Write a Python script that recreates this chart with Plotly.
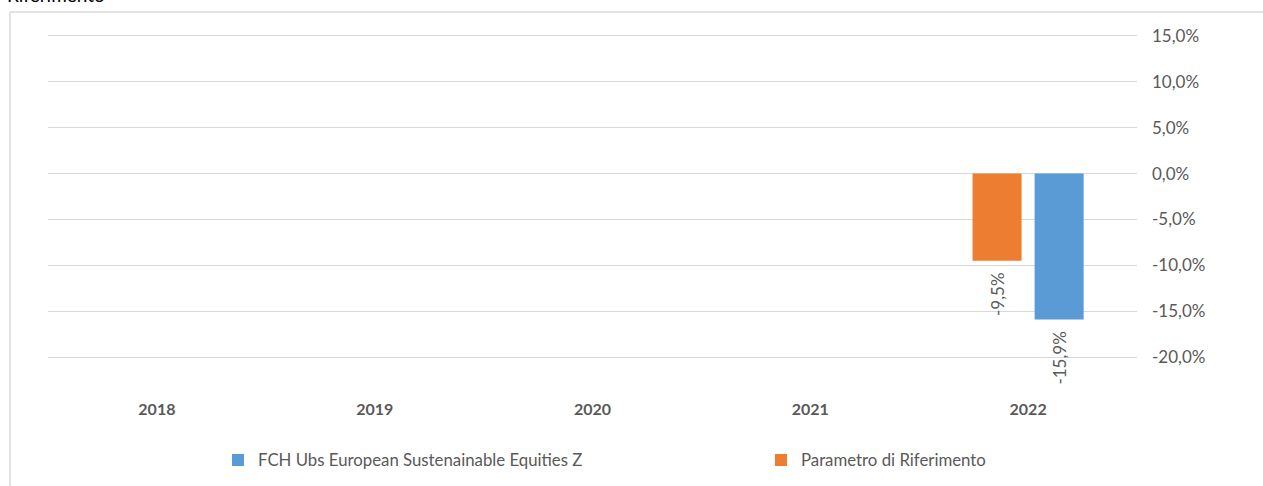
import plotly.graph_objects as go

# Annual returns (%) by year
years = ["2018", "2019", "2020", "2021", "2022"]
benchmark_name = "Parametro di Riferimento"
benchmark = [None, None, None, None, -9.5]
fund_name = "FCH Ubs European Sustenainable Equities Z"
fund = [None, None, None, None, -15.9]

y_ticks = [-20, -15, -10, -5, 0, 5, 10, 15]
y_tick_labels = [f"{v:.1f}%".replace(".", ",") for v in y_ticks]

ORANGE = "#ED7D31"
BLUE = "#5B9BD5"
GRID = "#D9D9D9"
TEXT = "#595959"
FONT = "Lato"

W, H = 1263, 486
L, R, T, B = 48, 126, 34, 127
pw, ph = W - L - R, H - T - B


def px_x(p):
    return (p - L) / pw


def px_y(p):
    return (H - B - p) / ph


def fmt(v):
    return "" if v is None else f"{v:.1f}%".replace(".", ",") + "\u00a0\u00a0"


def bar(name, values, color, legend):
    return go.Bar(
        name=name,
        x=years,
        y=values,
        marker=dict(color=color, line=dict(width=0)),
        text=[fmt(v) for v in values],
        texttemplate="%{text}",
        textposition="outside",
        textangle=-90,
        constraintext="none",
        cliponaxis=False,
        textfont=dict(family=FONT, size=17, color=TEXT),
        legend=legend,
        hoverinfo="skip",
    )


fig = go.Figure()
fig.add_trace(bar(benchmark_name, benchmark, ORANGE, "legend2"))
fig.add_trace(bar(fund_name, fund, BLUE, "legend"))

legend_common = dict(
    orientation="h",
    xanchor="left",
    y=px_y(460),
    yanchor="middle",
    itemwidth=30,
    font=dict(family=FONT, size=16.8, color=TEXT),
    bgcolor="rgba(0,0,0,0)",
)

fig.update_layout(
    width=W,
    height=H,
    margin=dict(l=L, r=R, t=T, b=B, pad=0, autoexpand=False),
    paper_bgcolor="white",
    plot_bgcolor="white",
    barmode="group",
    bargap=0.43,
    bargroupgap=0.21,
    font=dict(family=FONT, size=17, color=TEXT),
    showlegend=True,
    legend=dict(x=px_x(218), **legend_common),
    legend2=dict(x=px_x(761), **legend_common),
    xaxis=dict(
        type="category",
        categoryorder="array",
        categoryarray=years,
        showgrid=False,
        showline=False,
        ticks="",
        ticklabelstandoff=39,
        tickfont=dict(family=FONT, size=16, color=TEXT, weight="bold"),
        automargin=False,
        fixedrange=True,
    ),
    yaxis=dict(
        range=[-20.2, 15.2],
        side="right",
        tickmode="array",
        tickvals=y_ticks,
        ticktext=y_tick_labels,
        showgrid=True,
        gridcolor=GRID,
        gridwidth=1,
        zeroline=False,
        showline=False,
        ticks="",
        ticklabelstandoff=14,
        tickfont=dict(family=FONT, size=17, color=TEXT),
        automargin=False,
        fixedrange=True,
    ),
    shapes=[
        # chart area frame: top and left edges
        dict(type="line", xref="paper", yref="paper",
             x0=px_x(10), x1=px_x(W + 5), y0=px_y(12), y1=px_y(12),
             line=dict(color=GRID, width=1.5)),
        dict(type="line", xref="paper", yref="paper",
             x0=px_x(10), x1=px_x(10), y0=px_y(12), y1=px_y(H + 5),
             line=dict(color=GRID, width=1.5)),
    ],
    annotations=[
        dict(text="Riferimento", xref="paper", yref="paper",
             x=px_x(5), y=px_y(8), xanchor="left", yanchor="bottom",
             showarrow=False,
             font=dict(family=FONT, size=19, color="#000000")),
    ],
)

fig.write_html("out.html")
